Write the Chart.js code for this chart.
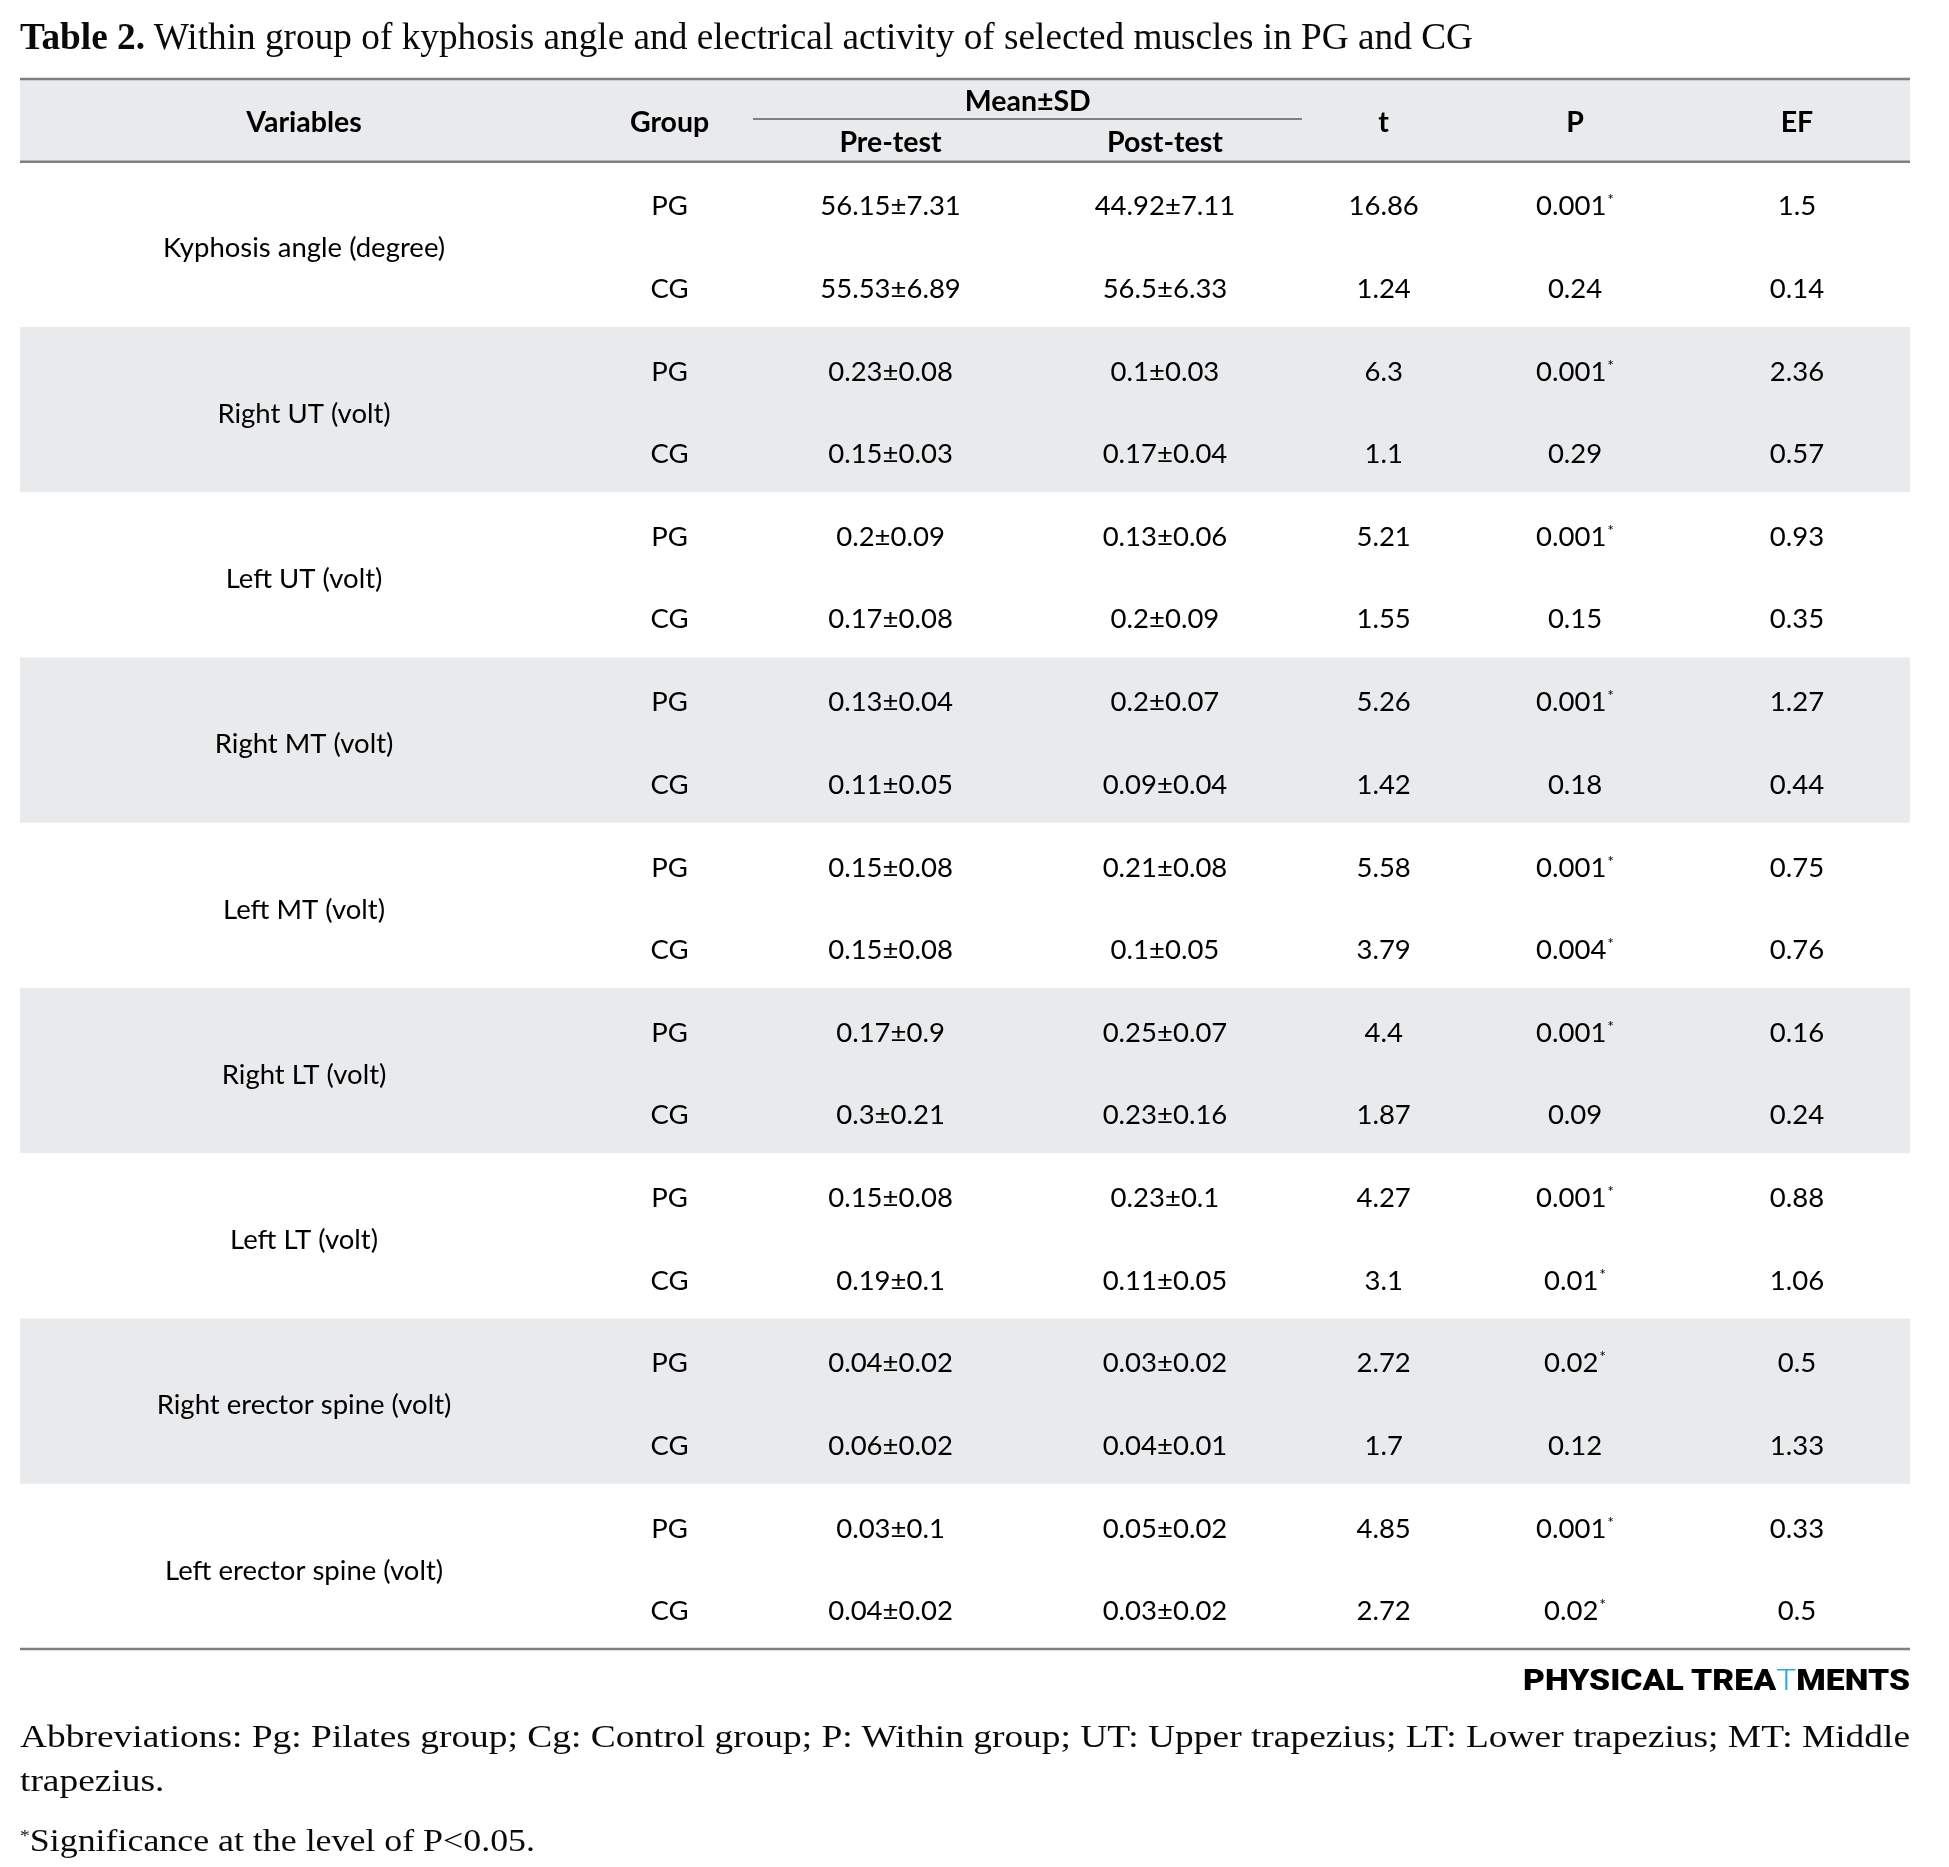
<!DOCTYPE html>
<html>
<head>
<meta charset="utf-8">
<script src="https://cdn.jsdelivr.net/npm/chart.js@4.4.1/dist/chart.umd.min.js"></script>
<style>
  body { margin: 0; background: #fff; }
  #wrap { position: relative; width: 1949px; height: 1867px; overflow: hidden; }
  #tbl { position: absolute; left: 0; top: 0; }
  .ln { position: absolute; left: 20px; white-space: nowrap; font-family: "Liberation Serif", serif;
        line-height: 1; transform-origin: 0 0; color: #0a0a0a; }
  .sup { position: relative; top: -0.55em; font-size: 0.55em; }
  #logo { font-family: Roboto, "Open Sans", sans-serif; font-weight: 900; color: #000; left: 1523px; }
  #logo .fig { color: #29abe2; font-weight: 300; }
</style>
</head>
<body>
<div id="wrap">
  <canvas id="tbl" width="1949" height="1867"></canvas>
  <div class="ln" id="title" style="top:18px;font-size:37.8px"><b>Table 2.</b> Within group of kyphosis angle and electrical activity of selected muscles in PG and CG</div>
  <div class="ln" id="logo" style="top:1666px;font-size:29.4px">PHYSICAL TREA<span class="fig">T</span>MENTS</div>
  <div class="ln" id="abbr1" style="top:1721px;font-size:31.7px">Abbreviations: Pg: Pilates group; Cg: Control group; P: Within group; UT: Upper trapezius; LT: Lower trapezius; MT: Middle</div>
  <div class="ln" id="abbr2" style="top:1765px;font-size:31.7px">trapezius.</div>
  <div class="ln" id="signif" style="top:1825px;font-size:31.7px"><span class="sup">*</span>Significance at the level of P&lt;0.05.</div>
</div>
<script>
// table values, two rows (PG, CG) per variable
const variables = ["Kyphosis angle (degree)", "Right UT (volt)", "Left UT (volt)", "Right MT (volt)",
  "Left MT (volt)", "Right LT (volt)", "Left LT (volt)", "Right erector spine (volt)", "Left erector spine (volt)"];
const groups = ["PG", "CG"];
const headers = ["Variables", "Group", "t", "P", "EF"];
const subHeaders = ["Pre-test", "Post-test"];
const spanHeader = "Mean±SD";

const preMean  = [56.15, 55.53, 0.23, 0.15, 0.2, 0.17, 0.13, 0.11, 0.15, 0.15, 0.17, 0.3, 0.15, 0.19, 0.04, 0.06, 0.03, 0.04];
const preSD    = [7.31, 6.89, 0.08, 0.03, 0.09, 0.08, 0.04, 0.05, 0.08, 0.08, 0.9, 0.21, 0.08, 0.1, 0.02, 0.02, 0.1, 0.02];
const postMean = [44.92, 56.5, 0.1, 0.17, 0.13, 0.2, 0.2, 0.09, 0.21, 0.1, 0.25, 0.23, 0.23, 0.11, 0.03, 0.04, 0.05, 0.03];
const postSD   = [7.11, 6.33, 0.03, 0.04, 0.06, 0.09, 0.07, 0.04, 0.08, 0.05, 0.07, 0.16, 0.1, 0.05, 0.02, 0.01, 0.02, 0.02];
const tValues  = [16.86, 1.24, 6.3, 1.1, 5.21, 1.55, 5.26, 1.42, 5.58, 3.79, 4.4, 1.87, 4.27, 3.1, 2.72, 1.7, 4.85, 2.72];
const pValues  = [0.001, 0.24, 0.001, 0.29, 0.001, 0.15, 0.001, 0.18, 0.001, 0.004, 0.001, 0.09, 0.001, 0.01, 0.02, 0.12, 0.001, 0.02];
const efValues = [1.5, 0.14, 2.36, 0.57, 0.93, 0.35, 1.27, 0.44, 0.75, 0.76, 0.16, 0.24, 0.88, 1.06, 0.5, 1.33, 0.33, 0.5];
const alpha = 0.05;

// layout (x as fraction of table width, y in variable blocks)
const colX = [0.1503, 0.3437, 0.4606, 0.6058, 0.7215, 0.8228, 0.9402];
const subY = [0.266, 0.765];
const labelY = 0.52;
const bodyFont = "27.5px Lato";
const headFont = "bold 28.5px Lato";
const inkColor = "#000";
const bandColor = "#e9eaec";
const ruleColor = "#808080";

function cellsFor(col, fn) {
  const out = [];
  variables.forEach((v, i) => groups.forEach((g, j) => {
    const k = i * 2 + j;
    out.push(Object.assign({ x: colX[col], y: i + subY[j] }, fn(k, g)));
  }));
  return out;
}

const datasets = [
  { label: "variables", font: bodyFont,
    data: variables.map((v, i) => ({ x: colX[0], y: i + labelY, text: v })) },
  { label: "group", font: bodyFont, data: cellsFor(1, (k, g) => ({ text: g })) },
  { label: "pre", font: bodyFont, data: cellsFor(2, k => ({ text: preMean[k] + "±" + preSD[k] })) },
  { label: "post", font: bodyFont, data: cellsFor(3, k => ({ text: postMean[k] + "±" + postSD[k] })) },
  { label: "t", font: bodyFont, data: cellsFor(4, k => ({ text: String(tValues[k]) })) },
  { label: "p", font: bodyFont, data: cellsFor(5, k => ({ text: String(pValues[k]), star: pValues[k] < alpha })) },
  { label: "ef", font: bodyFont, data: cellsFor(6, k => ({ text: String(efValues[k]) })) },
  { label: "head", font: headFont, data: [
      { x: colX[0], y: -0.24, text: headers[0] },
      { x: colX[1], y: -0.24, text: headers[1] },
      { x: (colX[2] + colX[3]) / 2, y: -0.369, text: spanHeader },
      { x: colX[2], y: -0.121, text: subHeaders[0] },
      { x: colX[3], y: -0.121, text: subHeaders[1] },
      { x: colX[4], y: -0.24, text: headers[2] },
      { x: colX[5], y: -0.24, text: headers[3] },
      { x: colX[6], y: -0.24, text: headers[4] }
  ] }
];

const tableRules = {
  id: "tableRules",
  beforeDatasetsDraw(chart) {
    const { ctx, chartArea: a, scales: { x, y } } = chart;
    ctx.save();
    ctx.fillStyle = bandColor;
    ctx.fillRect(a.left, y.getPixelForValue(-0.5), a.width, y.getPixelForValue(0) - y.getPixelForValue(-0.5));
    variables.forEach((v, i) => {
      if (i % 2 === 1) {
        const top = y.getPixelForValue(i), bot = y.getPixelForValue(i + 1);
        ctx.fillRect(a.left, top, a.width, bot - top);
      }
    });
    ctx.strokeStyle = ruleColor;
    ctx.lineWidth = 2.5;
    [-0.5, 0, variables.length].forEach(v => {
      const py = y.getPixelForValue(v);
      ctx.beginPath(); ctx.moveTo(a.left, py); ctx.lineTo(a.right, py); ctx.stroke();
    });
    ctx.lineWidth = 2;
    const my = y.getPixelForValue(-0.258);
    ctx.beginPath(); ctx.moveTo(x.getPixelForValue(0.3878), my); ctx.lineTo(x.getPixelForValue(0.6783), my); ctx.stroke();
    ctx.restore();
  }
};

const tableText = {
  id: "tableText",
  afterDatasetsDraw(chart) {
    const ctx = chart.ctx;
    ctx.save();
    ctx.fillStyle = inkColor;
    ctx.textBaseline = "alphabetic";
    chart.data.datasets.forEach((ds, i) => {
      const meta = chart.getDatasetMeta(i);
      meta.data.forEach((el, j) => {
        const cell = ds.data[j];
        ctx.font = ds.font;
        const w = ctx.measureText(cell.text).width;
        ctx.font = "16px Lato";
        const sw = cell.star ? ctx.measureText("*").width + 1 : 0;
        const left = el.x - (w + sw) / 2;
        const base = el.y + 9.9;
        ctx.font = ds.font;
        ctx.textAlign = "left";
        ctx.fillText(cell.text, left, base);
        if (cell.star) {
          ctx.font = "16px Lato";
          ctx.fillText("*", left + w + 1, base - 10);
        }
      });
    });
    ctx.restore();
  }
};

new Chart(document.getElementById("tbl"), {
  type: "scatter",
  data: { datasets: datasets },
  options: {
    responsive: false,
    animation: false,
    devicePixelRatio: 1,
    layout: { padding: { left: 20, right: 39, top: 79, bottom: 218 } },
    elements: { point: { radius: 0, hoverRadius: 0 } },
    plugins: { legend: { display: false }, tooltip: { enabled: false } },
    scales: {
      x: { type: "linear", min: 0, max: 1, display: false },
      y: { type: "linear", min: -0.5, max: variables.length, reverse: true, display: false }
    }
  },
  plugins: [tableRules, tableText]
});

function fit(id, w) {
  const el = document.getElementById(id);
  el.style.transform = "none";
  const s = w / el.getBoundingClientRect().width;
  el.style.transform = "scaleX(" + s + ")";
  return s;
}
const s1 = fit("abbr1", 1890);
document.getElementById("abbr2").style.transform = "scaleX(" + s1 + ")";
fit("title", 1453);
fit("signif", 515);
fit("logo", 387);
</script>
</body>
</html>
